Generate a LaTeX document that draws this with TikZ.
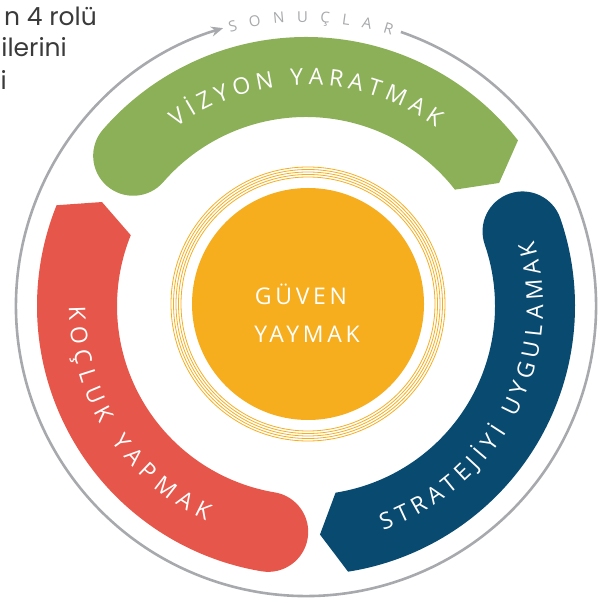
\documentclass[tikz,border=0pt]{standalone}
\usepackage{fontspec}
\setmainfont{Open Sans}
\newfontfamily\popfont{Poppins}
\usetikzlibrary{decorations.text,arrows.meta}
\definecolor{vgreen}{RGB}{140,176,88}
\definecolor{vblue}{RGB}{8,74,112}
\definecolor{vred}{RGB}{231,86,74}
\definecolor{vorange}{RGB}{246,173,30}
\definecolor{ringgray}{RGB}{167,169,172}
\definecolor{darktext}{RGB}{58,58,58}
\tikzset{
  bandtext/.style={decorate, decoration={text along path, text color=white, text align={fit to path}, text={|\fontsize{23}{23}\selectfont|#1}}},
  graytext/.style={decorate, decoration={text along path, text color=ringgray, text align={fit to path}, text={|\fontsize{15}{15}\selectfont|#1}}},
  centertext/.style={text=white, font=\addfontfeature{LetterSpace=16}\fontsize{23}{23}\selectfont, inner sep=0pt, anchor=base},
  sidetext/.style={text=darktext, font=\popfont\fontsize{25}{25}\selectfont, inner sep=0pt, anchor=base east}
}
\begin{document}
\begin{tikzpicture}[x=1pt,y=1pt]
\useasboundingbox (0,0) rectangle (615,602);
\node[sidetext] (t1) at (97,576) {n 4 rolü};
\node[sidetext] (t2) at (67,545) {ilerini};
\node[sidetext] (t3) at (7,512) {i};
\begin{scope}[shift={(306,296)}]
  \coordinate (c) at (0,0);
  % outer gray ring with arrow
  \draw[ringgray, line width=2.6, -{Stealth[length=12, width=10]}] (70.9:290pt) arc[start angle=70.9, end angle=-253.4, radius=290pt];
  \path[graytext={SONUÇLAR}] (105.5:284pt) arc[start angle=105.5, end angle=72.5, radius=284pt];
  % bands
  \fill[vgreen] (38:269pt) arc[start angle=38,end angle=139,radius=269pt]
     arc[start angle=139,end angle=319,radius=40pt]
     arc[start angle=139,end angle=38,radius=189pt] -- (32.5:229pt) -- cycle;
  \fill[vblue] (-81:269pt) arc[start angle=-81,end angle=19,radius=269pt]
     arc[start angle=19,end angle=199,radius=40pt]
     arc[start angle=19,end angle=-81,radius=189pt] -- (-86.5:229pt) -- cycle;
  \fill[vred] (158:269pt) arc[start angle=158,end angle=260.5,radius=269pt]
     arc[start angle=260.5,end angle=440.5,radius=40pt]
     arc[start angle=260.5,end angle=158,radius=189pt] -- (153:229pt) -- cycle;
  % band texts
  \path[bandtext={VİZYON YARATMAK}] (126:221pt) arc[start angle=126, end angle=54, radius=221pt];
  \path[bandtext={STRATEJİYİ UYGULAMAK}] (-71:237pt) arc[start angle=-71, end angle=16, radius=237pt];
  \path[bandtext={KOÇLUK YAPMAK}] (180:237pt) arc[start angle=180, end angle=245, radius=237pt];
  % center
  \begin{scope}[shift={(2,2)}]
    \fill[vorange] (0,0) circle (116pt);
    \foreach \r in {127,129.5,132,134.5,137}{
      \draw[vorange, line width=0.8] (0,0) circle (\r pt);
    }
  \end{scope}
  \node[centertext] (g1) at (-5,1) {GÜVEN};
  \node[centertext] (g2) at (1,-37) {YAYMAK};
\end{scope}
\end{tikzpicture}
\end{document}
